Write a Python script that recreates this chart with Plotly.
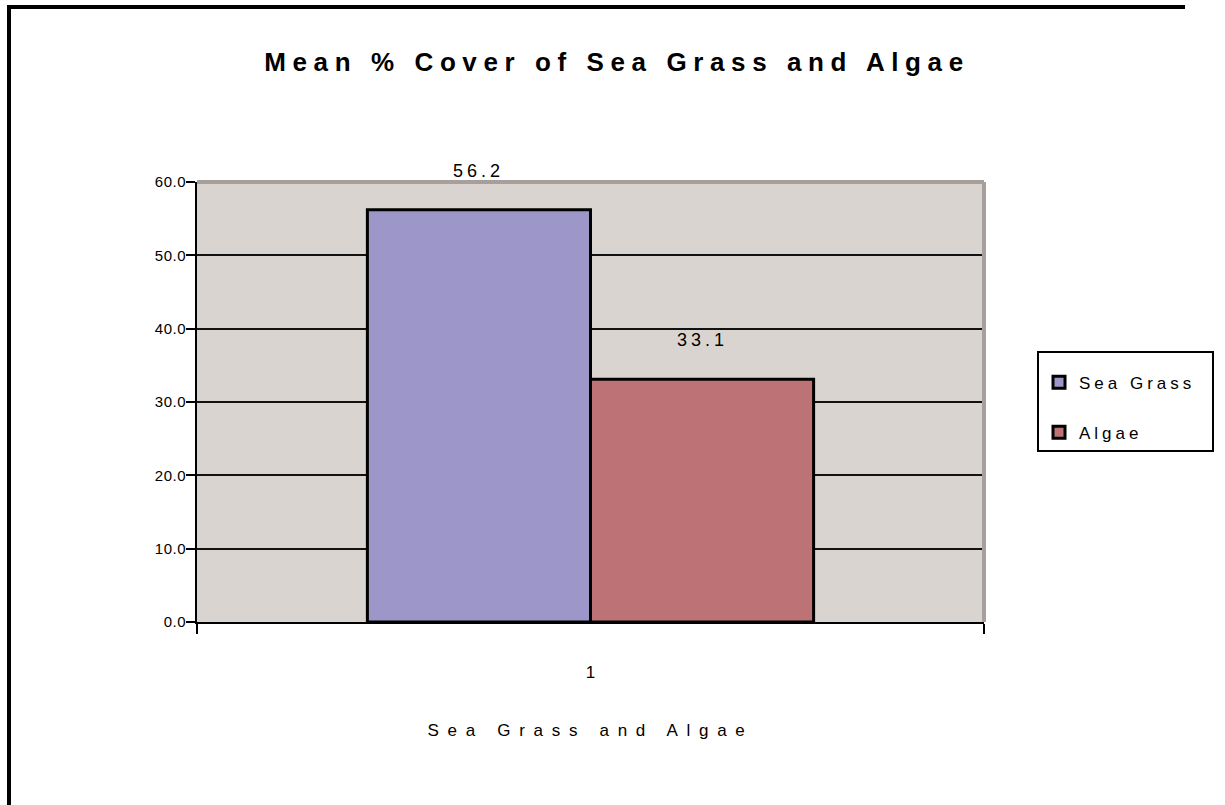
import plotly.graph_objects as go

# Chart data
categories = ["1"]
series_names = ["Sea Grass", "Algae"]
sea_grass = [56.2]
algae = [33.1]
y_ticks = [0, 10, 20, 30, 40, 50, 60]

colors = {"Sea Grass": "#9D96C9", "Algae": "#BD7376"}
FONT = "Liberation Sans, Arial, sans-serif"

W, H = 1225, 805
L, R, T, B = 197, 984, 182, 622  # plot area in pixels
BARGAP = 0.433
LEGEND_W = 175


def px_x(x):
    return (x - L) / (R - L)


def px_y(y):
    return (B - y) / (B - T)


fig = go.Figure()
for name, vals in zip(series_names, [sea_grass, algae]):
    fig.add_trace(go.Bar(
        x=categories, y=vals, name=name,
        marker=dict(color=colors[name], line=dict(color="black", width=3)),
        legendgroup=name,
        hoverinfo="skip",
    ))

# value labels above each bar
bar_w = (1 - BARGAP) / len(series_names)
for i, vals in enumerate([sea_grass, algae]):
    offset = -(1 - BARGAP) / 2 + bar_w * (i + 0.5)
    for j, v in enumerate(vals):
        fig.add_annotation(
            x=j + offset, y=v, xref="x", yref="y",
            text=f"{v:.1f}", showarrow=False, yanchor="middle",
            yshift=39, font=dict(family=FONT, size=18, color="black"),
        )

shapes = [
    # gray frame on top and right of plot area
    dict(type="line", xref="paper", yref="paper", x0=0, x1=1, y0=1, y1=1,
         line=dict(color="#A69F9C", width=4)),
    dict(type="line", xref="paper", yref="paper", x0=1, x1=1, y0=0, y1=1,
         line=dict(color="#A69F9C", width=4)),
    # chart border (top and left)
    dict(type="line", xref="paper", yref="paper", x0=px_x(7), x1=px_x(W - 40),
         y0=px_y(7), y1=px_y(7), line=dict(color="black", width=4)),
    dict(type="line", xref="paper", yref="paper", x0=px_x(9), x1=px_x(9),
         y0=px_y(5), y1=px_y(H), line=dict(color="black", width=4)),
]

fig.update_layout(
    width=W, height=H,
    margin=dict(l=L, r=W - R, t=T, b=H - B, pad=0),
    paper_bgcolor="white", plot_bgcolor="#D9D4D0",
    barmode="group", bargap=BARGAP, bargroupgap=0,
    font=dict(family=FONT, size=17, color="black"),
    title=dict(text="<b>Mean % Cover of Sea Grass and Algae</b>",
               x=617 / W, xref="container", xanchor="center",
               y=1 - 62 / H, yref="container", yanchor="middle",
               font=dict(family=FONT, size=26, color="black")),
    showlegend=True,
    legend=dict(x=px_x(1037), y=px_y(351), xanchor="left", yanchor="top",
                bgcolor="white", bordercolor="black", borderwidth=2,
                font=dict(family=FONT, size=17, color="black"),
                title=dict(text=" ", font=dict(size=9)),
                tracegroupgap=25, traceorder="grouped",
                itemclick=False, itemdoubleclick=False),
    shapes=shapes,
)

fig.update_xaxes(
    type="category", showline=True, linecolor="black", linewidth=2,
    ticks="outside", tickson="boundaries", ticklen=10, tickwidth=2,
    tickcolor="black", showgrid=False, ticklabelstandoff=34,
    tickfont=dict(family=FONT, size=17),
    title=dict(text="Sea Grass and Algae", standoff=43,
               font=dict(family=FONT, size=17)),
)
fig.update_yaxes(
    range=[0, 60], tickvals=y_ticks, tickformat=".1f",
    showline=True, linecolor="black", linewidth=2,
    ticks="outside", ticklen=9, tickwidth=2, tickcolor="black",
    showgrid=True, gridcolor="#111111", gridwidth=1.6,
    zeroline=False, ticklabelstandoff=-3, tickfont=dict(family=FONT, size=15),
)

# widen glyph spacing of the chart texts and size the legend box to fit
post = """
document.documentElement.style.overflow = 'hidden';
document.body.style.overflow = 'hidden';
document.body.style.margin = '0';
var gd = document.querySelector('.plotly-graph-div');
function sp(sel, v){ gd.querySelectorAll(sel).forEach(function(t){ t.style.letterSpacing = v; }); }
sp('.gtitle', '6.6px');
sp('.legendtext', '4px');
sp('.xtitle', '8.7px');
sp('.annotation-text', '4px');
sp('.ytick text', '0.5px');
var lw = %d;
gd.querySelectorAll('.legend rect.bg').forEach(function(r){ r.setAttribute('width', lw); });
gd.querySelectorAll('clipPath[id^="legend"] rect').forEach(function(r){ r.setAttribute('width', lw); });
""" % LEGEND_W

fig.write_html("out.html", config={"displayModeBar": False, "responsive": False},
               post_script=post)
